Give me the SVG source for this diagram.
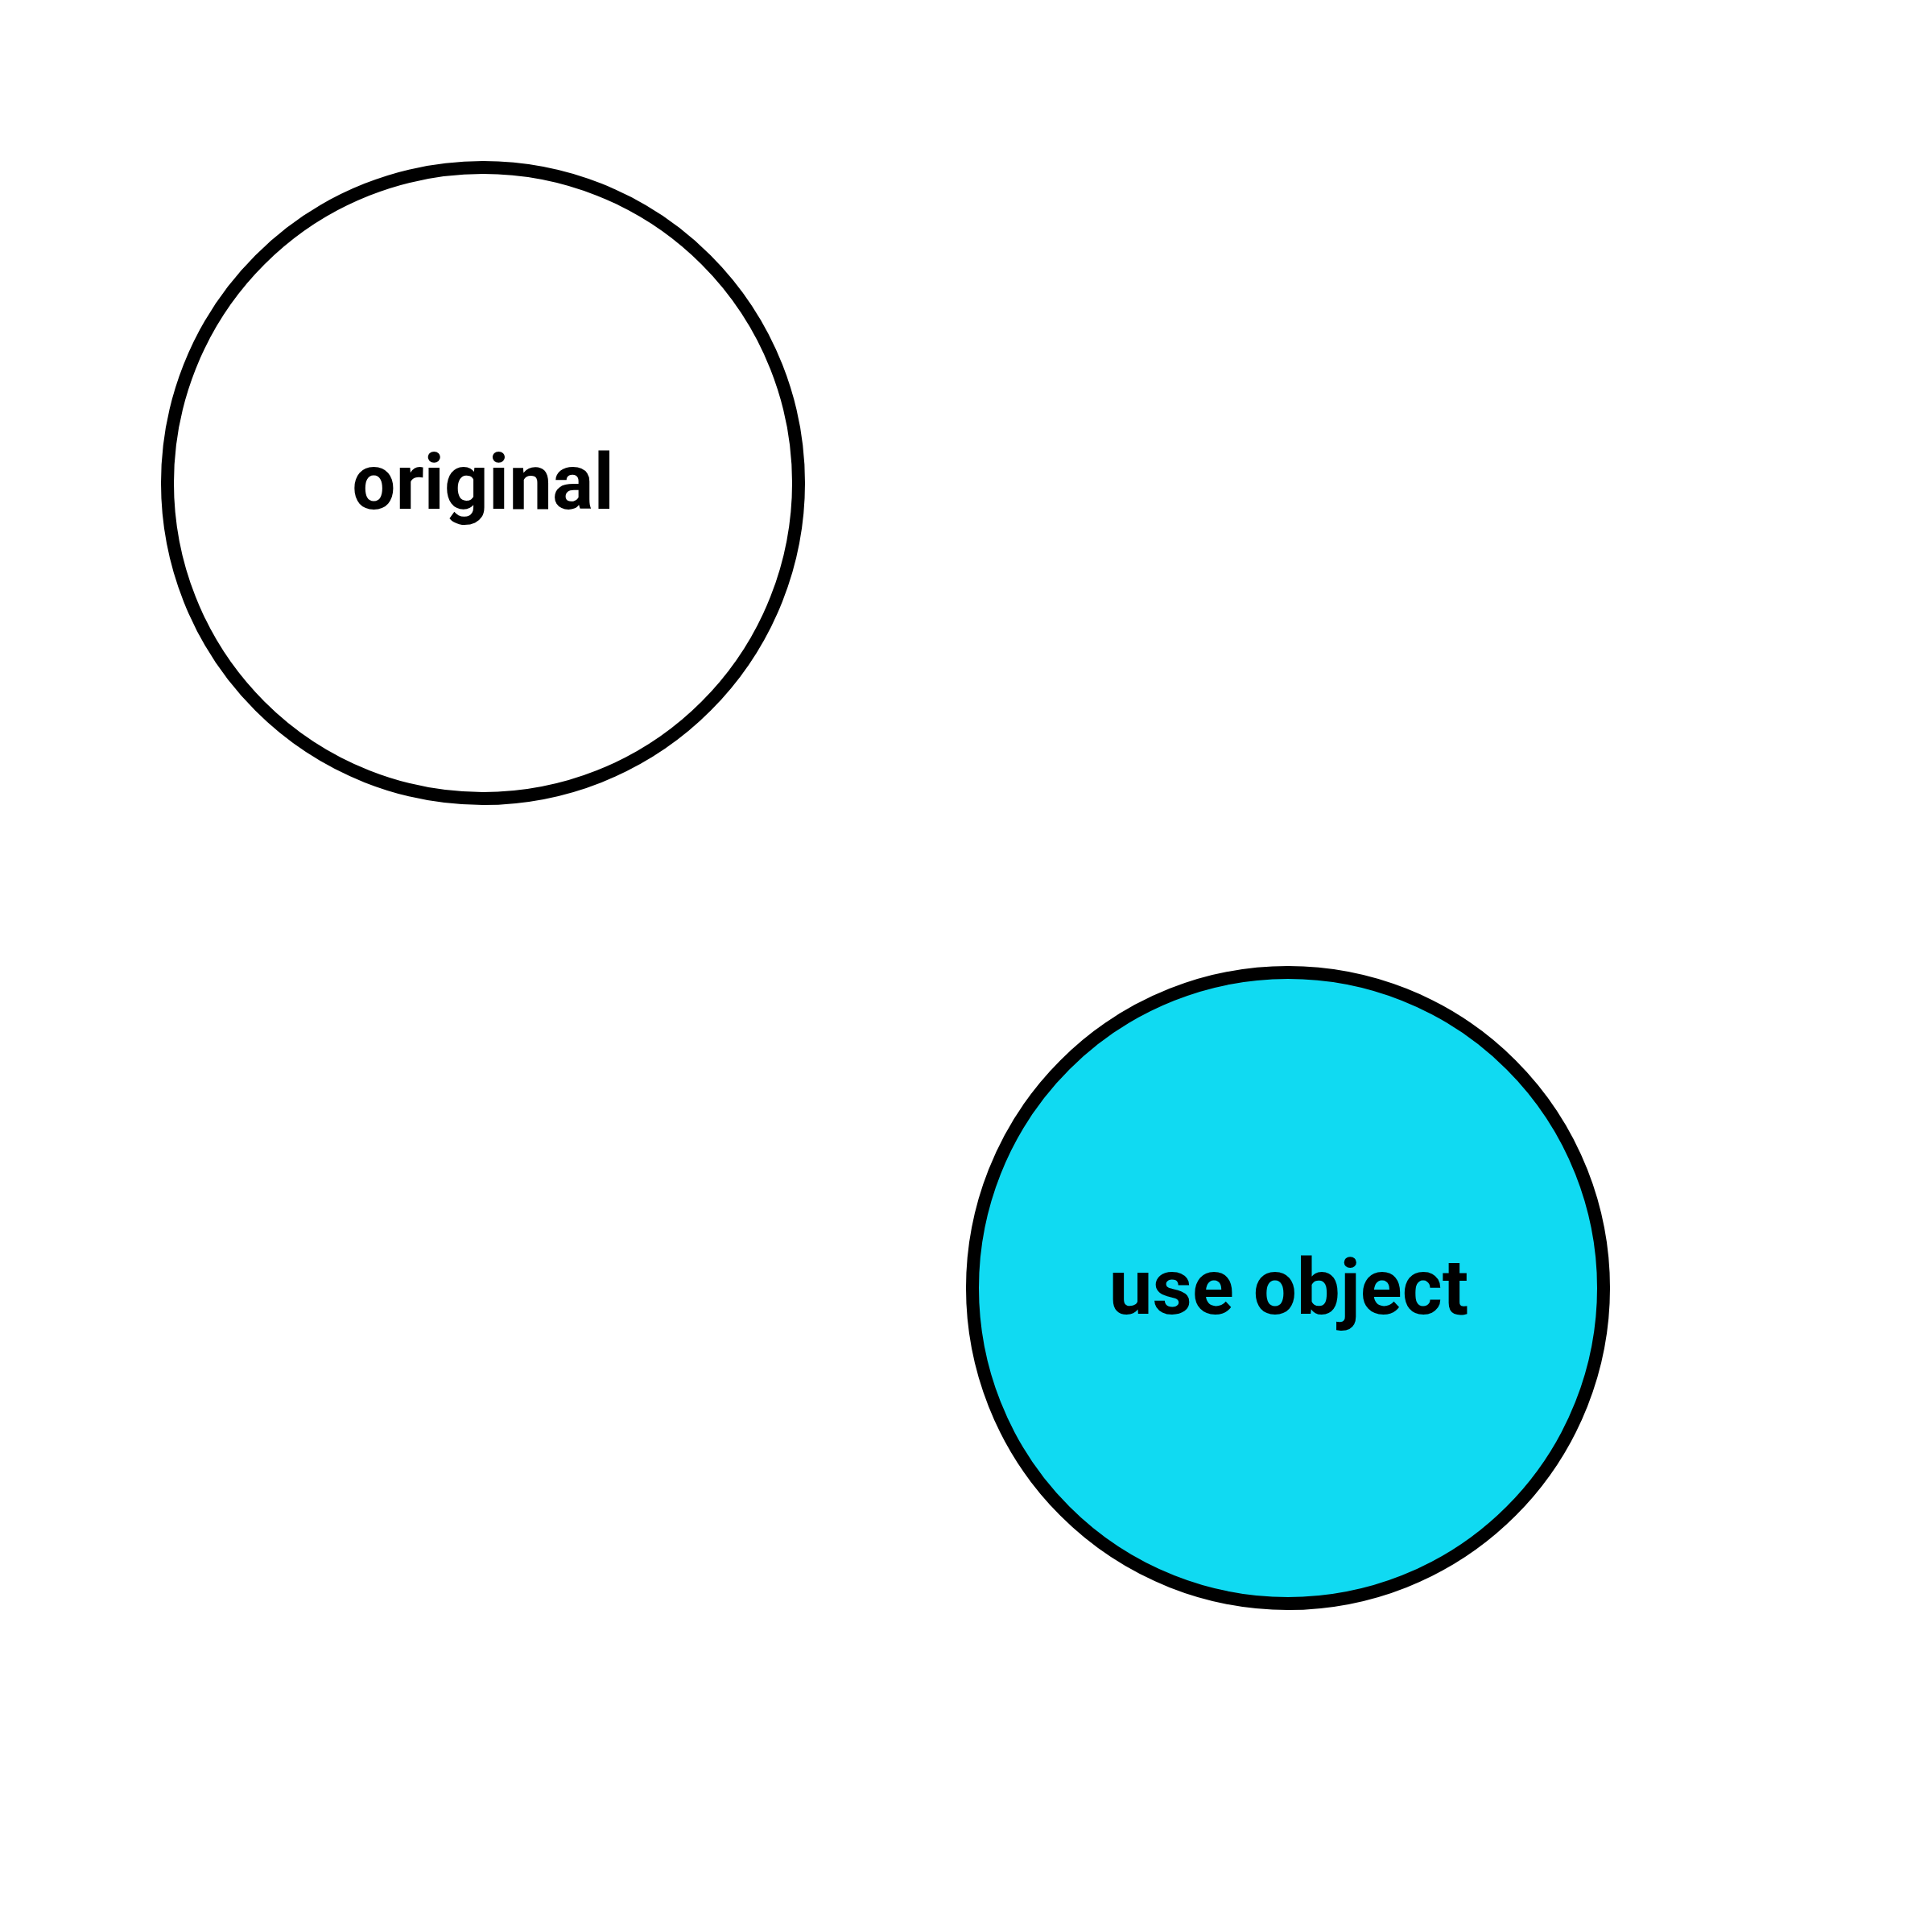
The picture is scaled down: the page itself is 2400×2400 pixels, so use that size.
<svg xmlns="http://www.w3.org/2000/svg" width="2400" height="2400" viewBox="0 0 2400 2400">
<style>
.node{stroke:#000;stroke-width:16}
.lbl{font-family:Roboto,"Liberation Sans",sans-serif;font-weight:bold;font-size:96px;text-anchor:middle;fill:#000}
</style>
<rect width="2400" height="2400" fill="#fff"/>
<g id="connectors"/>
<g id="original">
<circle class="node" cx="600" cy="600" r="392" fill="#fff"/>
<text class="lbl" x="600" y="632">original</text>
</g>
<g id="use-object">
<circle class="node" cx="1600" cy="1600" r="392" fill="#10DAF2"/>
<text class="lbl" x="1601" y="1632">use object</text>
</g>
</svg>
